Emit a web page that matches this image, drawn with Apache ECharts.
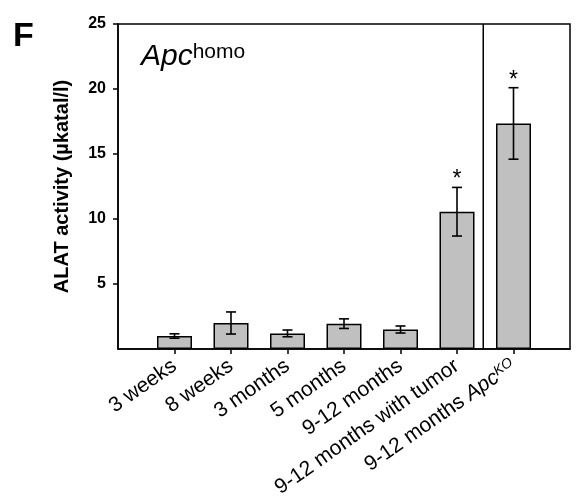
<!DOCTYPE html>
<html>
<head>
<meta charset="utf-8">
<title>ALAT activity</title>
<script src="https://cdn.jsdelivr.net/npm/echarts@6/dist/echarts.min.js"></script>
<style>
    html, body { margin: 0; padding: 0; background: #fff; }
    #alat_bars { width: 583px; height: 500px; }
</style>
</head>
<body>
<div id="alat_bars"></div>
<script>

// Chart data
// ------------------------------

// Empty slots at both ends keep half a band of space before the first and after the last bar
var categories = ['', '3 weeks', '8 weeks', '3 months', '5 months', '9-12 months',
    '9-12 months with tumor', '9-12 months {i|Apc}{k|KO}', ''];
var activity = ['-', 1.0, 2.0, 1.2, 1.95, 1.5, 10.56, 17.35, '-'];
var errors = [0, 0.17, 0.85, 0.26, 0.37, 0.27, 1.87, 2.75, 0];
var significant = [0, 0, 0, 0, 0, 0, 1, 1, 0];
var yTicks = [5, 10, 15, 20, 25];
var dividerAfter = 6;


// Setup module
// ------------------------------

var AlatBars = function() {

    var fontFamily = '"Liberation Sans", Arial, sans-serif';
    var lineStyle = { color: '#000', width: 1.5 };

    // Error bar rows: [category index, low, high, significant]
    var errorData = [];
    activity.forEach(function(v, i) {
        if (v !== '-') {
            errorData.push([i, v - errors[i], v + errors[i], significant[i]]);
        }
    });

    var renderErrorBar = function(params, api) {
        var x = api.value(0);
        var lo = api.coord([x, api.value(1)]);
        var hi = api.coord([x, api.value(2)]);
        var half = 5;
        var style = { stroke: '#000', lineWidth: 1.6 };
        var children = [
            { type: 'line', shape: { x1: hi[0], y1: hi[1], x2: lo[0], y2: lo[1] }, style: style },
            { type: 'line', shape: { x1: hi[0] - half, y1: hi[1], x2: hi[0] + half, y2: hi[1] }, style: style },
            { type: 'line', shape: { x1: lo[0] - half, y1: lo[1], x2: lo[0] + half, y2: lo[1] }, style: style }
        ];
        if (api.value(3)) {
            children.push({
                type: 'text',
                x: hi[0],
                y: hi[1] + 4,
                style: {
                    text: '*',
                    fontSize: 23,
                    fontFamily: fontFamily,
                    fill: '#000',
                    align: 'center',
                    verticalAlign: 'bottom'
                }
            });
        }
        return { type: 'group', children: children };
    };

    // Vertical separator between two categories
    var renderDivider = function(params, api) {
        var i = api.value(0);
        var a = api.coord([i, 0]);
        var b = api.coord([i + 1, 0]);
        var x = (a[0] + b[0]) / 2 - 2;
        var cs = params.coordSys;
        return {
            type: 'line',
            shape: { x1: x, y1: cs.y, x2: x, y2: cs.y + cs.height },
            style: { stroke: '#000', lineWidth: 1.5 }
        };
    };

    var _alatBars = function() {
        if (typeof echarts == 'undefined') {
            console.warn('Warning - echarts.min.js is not loaded.');
            return;
        }

        // Define element
        var element = document.getElementById('alat_bars');
        if (!element) {
            return;
        }

        // Initialize chart
        var chart = echarts.init(element);

        chart.setOption({
            animation: false,
            textStyle: { fontFamily: fontFamily, color: '#000' },

            title: [{
                text: 'F',
                left: 13,
                top: 20,
                padding: 0,
                textStyle: { fontSize: 34, fontWeight: 'bold', fontFamily: fontFamily, color: '#000' }
            }, {
                text: '{a|Apc}{h|homo}',
                left: 141,
                top: 42,
                padding: 0,
                textStyle: {
                    fontFamily: fontFamily,
                    fontWeight: 'normal',
                    rich: {
                        a: { fontSize: 30, fontStyle: 'italic', fontWeight: 'normal', fontFamily: fontFamily, color: '#000', verticalAlign: 'bottom' },
                        h: { fontSize: 21, fontWeight: 'normal', fontFamily: fontFamily, color: '#000', verticalAlign: 'top' }
                    }
                }
            }],

            // Setup grid
            grid: {
                show: true,
                left: 118,
                right: 13,
                top: 24,
                bottom: 151,
                borderColor: '#000',
                borderWidth: 1.5,
                outerBoundsMode: 'none'
            },

            // Horizontal axis
            xAxis: {
                type: 'category',
                data: categories,
                boundaryGap: false,
                axisLine: { lineStyle: lineStyle },
                axisTick: {
                    length: 5,
                    interval: function(i) { return i > 0 && i < categories.length - 1; },
                    lineStyle: lineStyle
                },
                axisLabel: {
                    interval: 0,
                    rotate: 35,
                    fontSize: 21,
                    color: '#000',
                    fontFamily: fontFamily,
                    margin: 15,
                    rich: {
                        i: { fontSize: 21, fontStyle: 'italic', fontFamily: fontFamily, color: '#000' },
                        k: { fontSize: 14, fontStyle: 'italic', fontFamily: fontFamily, color: '#000', verticalAlign: 'top' }
                    }
                },
                splitLine: { show: false }
            },

            // Vertical axis
            yAxis: {
                type: 'value',
                min: 0,
                max: 25,
                interval: 5,
                name: 'ALAT activity (µkatal/l)',
                nameLocation: 'middle',
                nameGap: 46,
                nameTextStyle: { fontSize: 20, fontWeight: 'bold', fontFamily: fontFamily, color: '#000' },
                axisLine: { show: true, lineStyle: lineStyle },
                axisTick: { show: true, length: 5, customValues: yTicks, lineStyle: lineStyle },
                axisLabel: {
                    customValues: yTicks,
                    fontSize: 16,
                    fontWeight: 'bold',
                    color: '#000',
                    fontFamily: fontFamily,
                    margin: 12
                },
                splitLine: { show: false }
            },

            // Add series
            series: [{
                type: 'bar',
                data: activity,
                barWidth: 35,
                itemStyle: { color: '#c0c0c0', borderColor: '#000', borderWidth: 1.5 }
            }, {
                type: 'custom',
                renderItem: renderErrorBar,
                data: errorData,
                encode: { x: 0, y: [1, 2] },
                z: 3
            }, {
                type: 'custom',
                renderItem: renderDivider,
                data: [[dividerAfter, 0]],
                encode: { x: 0, y: 1 },
                z: 4
            }]
        });
    };

    return {
        init: function() {
            _alatBars();
        }
    };
}();


// Initialize module
// ------------------------------

document.addEventListener('DOMContentLoaded', function() {
    AlatBars.init();
});
</script>
</body>
</html>
